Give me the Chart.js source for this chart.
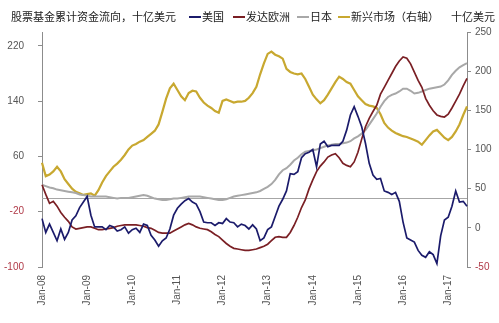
<!DOCTYPE html>
<html>
<head>
<meta charset="utf-8">
<script src="https://cdn.jsdelivr.net/npm/chart.js@4"></script>
<style>
  body { margin: 0; background: #fff; }
  #wrap { position: relative; width: 499px; height: 323px; overflow: hidden; }
  #line_graph { position: absolute; left: 0; top: 0; }
  .hd { position: absolute; top: 9px; font: 11px "Noto Sans CJK SC", sans-serif; color: #222; white-space: nowrap; line-height: 14px; }
  .dash { position: absolute; top: 16px; width: 12px; height: 2px; }
</style>
</head>
<body>
<div id="wrap">
  <canvas id="line_graph" width="499" height="323"></canvas>
  <span class="hd" style="left:11px">股票基金累计资金流向，十亿美元</span>
  <div class="dash" style="left:189px;background:#1b1b6b"></div>
  <span class="hd" style="left:202px">美国</span>
  <div class="dash" style="left:233px;background:#7a1f24"></div>
  <span class="hd" style="left:246px">发达欧洲</span>
  <div class="dash" style="left:297px;background:#a8a8a8"></div>
  <span class="hd" style="left:310px">日本</span>
  <div class="dash" style="left:338px;background:#c8a830"></div>
  <span class="hd" style="left:351px">新兴市场（右轴）</span>
  <span class="hd" style="left:451px">十亿美元</span>
</div>
<script>
// monthly points, Jan-08 .. Jun-17
var x_tick_labels = ["Jan-08","Jan-09","Jan-10","Jan-11","Jan-12","Jan-13","Jan-14","Jan-15","Jan-16","Jan-17"];
var month_names = ["Jan","Feb","Mar","Apr","May","Jun","Jul","Aug","Sep","Oct","Nov","Dec"];

var left_ticks = [-100, -20, 60, 140, 220];
var right_ticks = [-50, 0, 50, 100, 150, 200, 250];

// 美国
var us_flows = [
  -30,-50,-38,-50,-62,-45,-60,-50,-32,-26,-14,-6,
  2,-25,-42,-42,-42,-46,-40,-42,-48,-46,-42,-51,
  -46,-44,-50,-38,-40,-54,-61,-70,-62,-58,-45,-25,
  -15,-9,-4,-1,-6,-9,-20,-35,-36,-36,-40,-36,
  -37,-30,-35,-36,-42,-38,-40,-45,-39,-45,-62,-58,
  -46,-42,-27,-12,-2,10,35,34,38,58,64,66,
  70,45,78,82,74,76,76,76,82,98,120,132,
  118,103,79,50,33,27,28,10,8,5,8,-5,
  -35,-58,-61,-64,-76,-83,-86,-78,-82,-95,-55,-32,
  -28,-12,10,-6,-5,-12
];

// 发达欧洲
var europe_flows = [
  19,5,-8,-5,-12,-21,-28,-34,-42,-45,-44,-43,
  -42,-42,-44,-46,-46,-45,-44,-43,-41,-40,-39,-39,
  -39,-39,-40,-41,-43,-44,-47,-50,-51,-51,-51,-48,
  -45,-42,-39,-37,-39,-42,-44,-45,-46,-49,-53,-56,
  -61,-66,-70,-73,-74,-75,-76,-76,-75,-74,-72,-70,
  -67,-62,-57,-56,-57,-57,-50,-40,-28,-14,-3,13,
  26,38,46,52,59,62,64,58,50,47,45,52,
  66,85,103,115,125,134,150,160,170,180,190,198,
  204,202,194,182,170,160,144,134,126,120,118,117,
  121,130,140,150,162,173
];

// 日本
var japan_flows = [
  19,17,15,14,12,11,10,9,8,7,5,4,
  3,2,2,2,2,2,1,0,-1,0,0,0,
  1,2,3,4,3,1,-1,-2,-3,-3,-2,-1,
  -1,0,1,2,2,2,2,1,0,-1,-2,-3,
  -3,-2,0,2,3,4,5,6,7,8,10,13,
  16,20,26,34,40,43,48,54,58,63,67,68,
  69,70,72,74,76,77,78,78,79,80,82,86,
  89,93,98,106,114,122,132,140,146,149,151,154,
  158,158,155,151,152,154,156,158,159,160,161,164,
  170,178,184,189,192,195
];

// 新兴市场（右轴）
var em_flows = [
  83,66,68,72,78,72,62,56,50,46,44,42,
  43,44,41,48,58,66,72,78,82,87,93,100,
  105,107,110,112,116,120,124,132,148,165,178,184,
  176,168,163,172,175,174,166,160,156,153,149,147,
  162,164,162,160,161,161,162,166,172,180,196,210,
  222,225,221,219,216,203,199,197,196,197,190,180,
  170,164,159,163,170,178,186,193,190,186,184,176,
  168,163,158,156,155,153,145,134,128,124,121,119,
  117,116,114,112,110,106,112,118,123,125,120,115,
  112,116,123,132,144,155
];

var months = [];
for (var i = 0; i < us_flows.length; i++) {
  var yr = 8 + Math.floor(i / 12);
  months.push(month_names[i % 12] + "-" + (yr < 10 ? "0" + yr : yr));
}

var tick_font = { family: "'Liberation Sans', Arial, sans-serif", size: 10 };
var axis_grey = "#8c8c8c";

function tickColor(ctx) {
  return ctx.tick && ctx.tick.value < 0 ? "#b03a48" : "#555555";
}

// zero line across the plot on the left axis
var zeroLine = {
  id: "zeroLine",
  beforeDatasetsDraw: function(chart) {
    var c = chart.ctx, area = chart.chartArea;
    var y = chart.scales.yL.getPixelForValue(0);
    c.save();
    c.strokeStyle = "#a6a6a6";
    c.lineWidth = 1;
    c.beginPath();
    c.moveTo(area.left, Math.round(y) + 0.5);
    c.lineTo(area.right, Math.round(y) + 0.5);
    c.stroke();
    c.restore();
  }
};

var ctx = document.getElementById("line_graph");
var line_graph = new Chart(ctx, {
  type: "line",
  data: {
    labels: months,
    datasets: [
      { label: "美国", data: us_flows, borderColor: "#1b1b6b", borderWidth: 1.7, yAxisID: "yL" },
      { label: "发达欧洲", data: europe_flows, borderColor: "#7a1f24", borderWidth: 1.7, yAxisID: "yL" },
      { label: "日本", data: japan_flows, borderColor: "#a8a8a8", borderWidth: 2, yAxisID: "yL" },
      { label: "新兴市场（右轴）", data: em_flows, borderColor: "#c8a830", borderWidth: 2.2, yAxisID: "yR" }
    ]
  },
  options: {
    responsive: false,
    animation: false,
    layout: { padding: { top: 32, left: 0, right: 0, bottom: 0 } },
    elements: { point: { radius: 0 }, line: { tension: 0, fill: false } },
    plugins: { legend: { display: false }, title: { display: false }, tooltip: { enabled: false } },
    scales: {
      x: {
        grid: { display: false, drawTicks: false },
        border: { display: false },
        ticks: {
          autoSkip: false, maxRotation: 90, minRotation: 90, padding: 8,
          font: tick_font, color: "#555555",
          callback: function(val, idx) {
            var lab = months[idx];
            return x_tick_labels.indexOf(lab) >= 0 ? lab : "";
          }
        },
        afterFit: function(scale) { scale.height = 56; }
      },
      yL: {
        position: "left",
        min: -100, max: 240,
        grid: { drawOnChartArea: false, drawTicks: true, tickLength: 4, color: axis_grey },
        border: { display: true, color: axis_grey },
        ticks: { font: tick_font, color: tickColor, padding: 14 },
        afterBuildTicks: function(scale) { scale.ticks = left_ticks.map(function(v) { return { value: v }; }); },
        afterFit: function(scale) { scale.width = 42; }
      },
      yR: {
        position: "right",
        min: -50, max: 250,
        grid: { drawOnChartArea: false, drawTicks: true, tickLength: 4, color: axis_grey },
        border: { display: true, color: axis_grey },
        ticks: { font: tick_font, color: tickColor, padding: 4 },
        afterBuildTicks: function(scale) { scale.ticks = right_ticks.map(function(v) { return { value: v }; }); },
        afterFit: function(scale) { scale.width = 32; }
      }
    }
  },
  plugins: [zeroLine]
});
</script>
</body>
</html>
